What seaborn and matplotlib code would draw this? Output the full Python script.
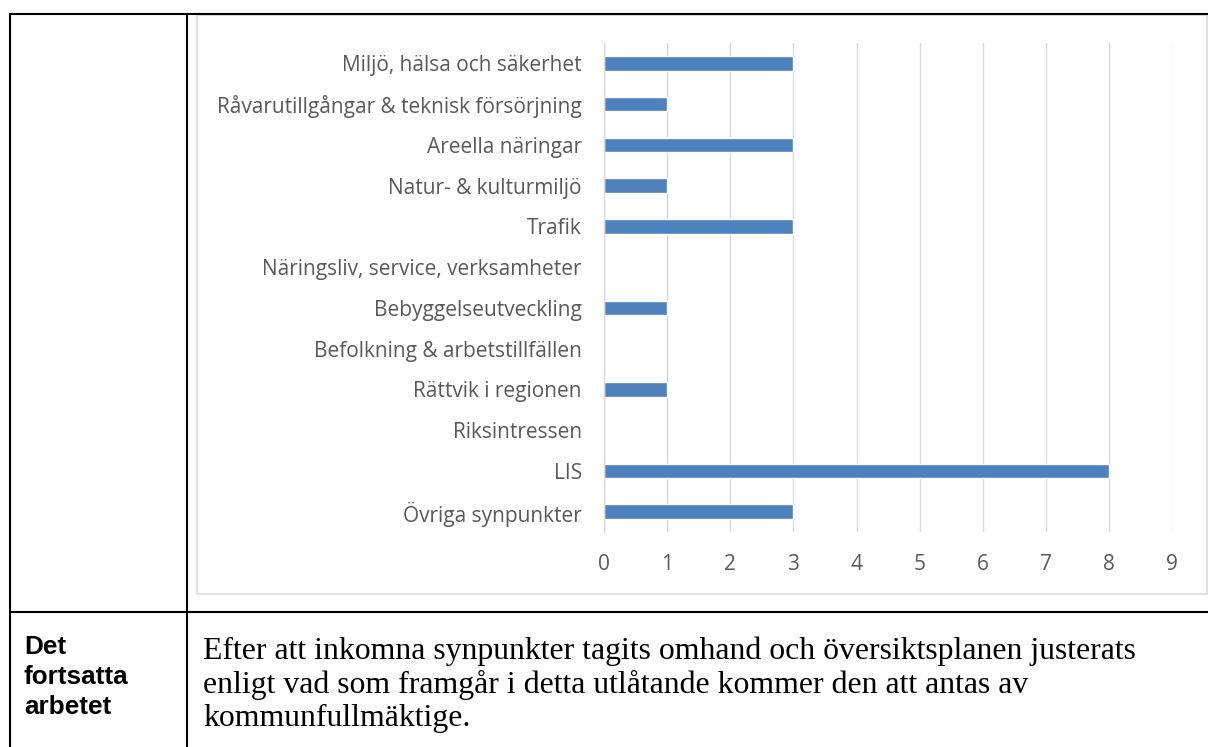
import matplotlib
matplotlib.use("Agg")
import matplotlib.pyplot as plt
import seaborn as sns
import pandas as pd
from matplotlib.lines import Line2D
from matplotlib.patches import Rectangle

# chart data
categories = [
    "Miljö, hälsa och säkerhet",
    "Råvarutillgångar & teknisk försörjning",
    "Areella näringar",
    "Natur- & kulturmiljö",
    "Trafik",
    "Näringsliv, service, verksamheter",
    "Bebyggelseutveckling",
    "Befolkning & arbetstillfällen",
    "Rättvik i regionen",
    "Riksintressen",
    "LIS",
    "Övriga synpunkter",
]
counts = [3, 1, 3, 1, 3, 0, 1, 0, 1, 0, 8, 3]
x_ticks = list(range(0, 10))

row_label = ["Det", "fortsatta", "arbetet"]
body_lines = [
    "Efter att inkomna synpunkter tagits omhand och översiktsplanen justerats",
    "enligt vad som framgår i detta utlåtande kommer den att antas av",
    "kommunfullmäktige.",
]

W, H = 1208, 747


def fx(px):
    return px / W


def fy(py):
    return 1 - py / H


sns.set_theme(style="white")
plt.rcParams['font.family'] = ['Open Sans', 'DejaVu Sans']

fig = plt.figure(figsize=(W / 100, H / 100), dpi=100)
fig.patch.set_facecolor("white")

# bar chart
ax = fig.add_axes([fx(604), fy(532), fx(1172.4) - fx(604), fy(43) - fy(532)])
df = pd.DataFrame({"kategori": categories, "antal": counts})
sns.barplot(data=df, x="antal", y="kategori", color="#4F81BD", width=0.35,
            saturation=1, ax=ax)
ax.set_xlim(0, 9)
ax.set_ylim(len(categories) - 0.5, -0.5)
ax.set_xticks(x_ticks)
ax.xaxis.grid(True, color="#D9D9D9", linewidth=1)
ax.yaxis.grid(False)
ax.set_axisbelow(True)
for s in ["top", "right", "bottom"]:
    ax.spines[s].set_visible(False)
ax.spines["left"].set_color("#D9D9D9")
ax.spines["left"].set_linewidth(1)
ax.tick_params(axis="y", length=0, colors="#595959", labelsize=15, pad=16)
ax.tick_params(axis="x", length=0, colors="#595959", labelsize=15, pad=16)
ax.set_xlabel("")
ax.set_ylabel("")

# chart frame
fig.add_artist(Rectangle((fx(196.7), fy(593.5)), fx(1206.7) - fx(196.7), fy(15.3) - fy(593.5),
                         transform=fig.transFigure, fill=False, edgecolor="#D9D9D9", linewidth=1.1))

# table lines
lw = 1.5
fig.add_artist(Line2D([fx(9.5), 1], [fy(13.5), fy(13.5)], transform=fig.transFigure, color="black", lw=lw))
fig.add_artist(Line2D([fx(9.5), fx(9.5)], [fy(13.5), 0], transform=fig.transFigure, color="black", lw=lw))
fig.add_artist(Line2D([fx(187), fx(187)], [fy(13.5), 0], transform=fig.transFigure, color="black", lw=lw))
fig.add_artist(Line2D([fx(9.5), 1], [fy(611.7), fy(611.7)], transform=fig.transFigure, color="black", lw=lw))

# lower row texts
for i, t in enumerate(row_label):
    fig.text(fx(24), fy(653.5 + i * 30.2), t, fontsize=18.8, fontweight="bold",
             family=["Liberation Sans", "DejaVu Sans"], va="baseline", ha="left", color="black")
for i, t in enumerate(body_lines):
    fig.text(fx(203), fy(659.5 + i * 33.3), t, fontsize=22.9,
             family=["Liberation Serif", "DejaVu Serif"], va="baseline", ha="left", color="black")

fig.savefig("out.png", dpi=100)
